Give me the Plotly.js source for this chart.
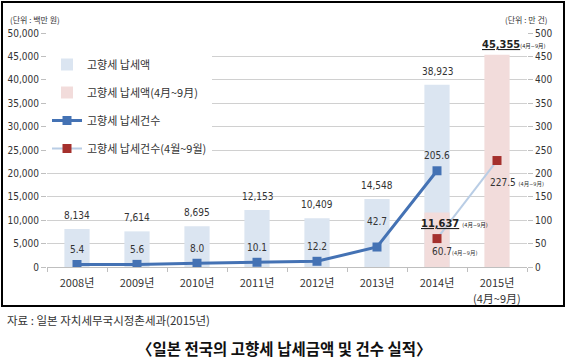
<!DOCTYPE html>
<html>
<head>
<meta charset="utf-8">
<script src="https://cdn.plot.ly/plotly-3.0.1.min.js"></script>
<style>html,body{margin:0;padding:0;background:#fff;}#chart{width:566px;height:360px;}</style>
</head>
<body>
<div id="chart"></div>
<script>
// ---- data ----
const categories = ['2008년', '2009년', '2010년', '2011년', '2012년', '2013년', '2014년', '2015년'];
const categoryNote = ['', '', '', '', '', '', '', '(4月~9月)'];
const amount = [8134, 7614, 8695, 12153, 10409, 14548, 38923, null];          // 고향세 납세액 (백만 원)
const amountPartial = [null, null, null, null, null, null, 11637, 45355];      // 고향세 납세액(4月~9月)
const count = [5.4, 5.6, 8.0, 10.1, 12.2, 42.7, 205.6, null];                // 고향세 납세건수 (만 건)
const countPartial = [null, null, null, null, null, null, 60.7, 227.5];       // 고향세 납세건수(4월~9월)
const seriesNames = ['고향세 납세액', '고향세 납세액(4月~9月)', '고향세 납세건수', '고향세 납세건수(4월~9월)'];
const leftUnit = '(단위 : 백만 원)';
const rightUnit = '(단위 : 만 건)';
const sourceText = '자료 : 일본 자치세무국시정촌세과(2015년)';
const chartTitle = '〈일본 전국의 고향세 납세금액 및 건수 실적〉';
const partialTag = '(4月~9月)';

// ---- geometry / style ----
const W = 566, H = 360;
const M = {l: 47, r: 39, t: 33, b: 93};
const PW = W - M.l - M.r, PH = H - M.t - M.b;
const px = x => (x - M.l) / PW;          // pixel -> paper x
const py = y => (H - M.b - y) / PH;      // pixel -> paper y
const NUM = '"Liberation Sans Narrow", "DejaVu Sans Condensed", "Noto Sans CJK KR", sans-serif';
const KR = '"Noto Sans CJK KR", "Malgun Gothic", sans-serif';
const TXT = '#333333';
const fmtInt = v => v.toLocaleString('en-US');

const traces = [
  {type: 'bar', x: categories, y: amount, name: seriesNames[0], width: 0.42,
   marker: {color: '#dbe5f1'}, legendgroup: 'a', hoverinfo: 'skip'},
  {type: 'bar', x: categories, y: amountPartial, name: seriesNames[1], width: 0.42,
   marker: {color: '#f2dcdb'}, legendgroup: 'b', hoverinfo: 'skip'},
  {type: 'scatter', mode: 'lines+markers', x: categories, y: count, yaxis: 'y2', name: seriesNames[2],
   line: {color: '#4472b4', width: 3}, marker: {symbol: 'square', size: 9, color: '#4472b4'},
   legendgroup: 'c', hoverinfo: 'skip', connectgaps: false},
  {type: 'scatter', mode: 'lines+markers', x: categories, y: countPartial, yaxis: 'y2', name: seriesNames[3],
   line: {color: '#b9cde5', width: 2}, marker: {symbol: 'square', size: 9, color: '#a5302d'},
   legendgroup: 'd', hoverinfo: 'skip'}
];

const ann = [];
// bar value labels (full-year)
amount.forEach((v, i) => {
  if (v == null) return;
  ann.push({x: categories[i], y: v, xref: 'x', yref: 'y', text: fmtInt(v), showarrow: false,
    yanchor: 'bottom', yshift: 6, font: {family: NUM, size: 10, color: TXT}});
});
// count labels
const countShift = [15, 15, 15, 15, 15, 26, 15, 0];
count.forEach((v, i) => {
  if (v == null) return;
  ann.push({x: categories[i], y: v, xref: 'x', yref: 'y2', text: v.toFixed(1), showarrow: false,
    yanchor: 'middle', yshift: countShift[i], font: {family: NUM, size: 10, color: TXT}});
});
// category sub-notes under tick labels
categoryNote.forEach((t, i) => {
  if (!t) return;
  ann.push({x: categories[i], y: py(298), xref: 'x', yref: 'paper', text: t, showarrow: false,
    yanchor: 'middle', font: {family: KR, size: 11, color: TXT}});
});
// partial-period labels
const small = t => '<span style="font-size:5.5px">' + t + '</span>';
ann.push({x: categories[6], y: amountPartial[6], xref: 'x', yref: 'y', showarrow: false,
  text: '<b><u>' + fmtInt(amountPartial[6]) + '</u></b> ' + small(partialTag),
  xanchor: 'left', xshift: -18, yanchor: 'middle', yshift: -11, font: {family: NUM, size: 11, color: '#222'}});
ann.push({x: categories[7], y: amountPartial[7], xref: 'x', yref: 'y', showarrow: false,
  text: '<b><u>' + fmtInt(amountPartial[7]) + '</u></b>' + small(partialTag),
  xanchor: 'left', xshift: -17, yanchor: 'middle', yshift: 10, font: {family: NUM, size: 11, color: '#222'}});
ann.push({x: categories[6], y: countPartial[6], xref: 'x', yref: 'y2', showarrow: false,
  text: countPartial[6].toFixed(1) + small(partialTag),
  xanchor: 'left', xshift: -7, yanchor: 'middle', yshift: -13, font: {family: NUM, size: 10, color: TXT}});
ann.push({x: categories[7], y: countPartial[7], xref: 'x', yref: 'y2', showarrow: false,
  text: countPartial[7].toFixed(1) + ' ' + small(partialTag),
  xanchor: 'left', xshift: -9, yanchor: 'middle', yshift: -22, font: {family: NUM, size: 10, color: TXT}});
// units, source, title
ann.push({x: px(8), y: py(19), xref: 'paper', yref: 'paper', xanchor: 'left', yanchor: 'middle', showarrow: false,
  text: leftUnit, font: {family: KR, size: 8, color: TXT}});
ann.push({x: px(503), y: py(19), xref: 'paper', yref: 'paper', xanchor: 'left', yanchor: 'middle', showarrow: false,
  text: rightUnit, font: {family: KR, size: 8, color: TXT}});
ann.push({x: px(5), y: py(320), xref: 'paper', yref: 'paper', xanchor: 'left', yanchor: 'middle', showarrow: false,
  text: sourceText, font: {family: KR, size: 11.5, color: TXT}});
ann.push({x: px(284), y: py(348), xref: 'paper', yref: 'paper', xanchor: 'center', yanchor: 'middle', showarrow: false,
  text: '<b>' + chartTitle + '</b>', font: {family: KR, size: 15.5, color: '#111'}});

const layout = {
  width: W, height: H,
  margin: M,
  paper_bgcolor: '#fff', plot_bgcolor: '#fff',
  barmode: 'overlay',
  showlegend: true,
  legend: {x: px(47), y: py(50), xanchor: 'left', yanchor: 'top', bgcolor: '#fff',
    traceorder: 'grouped', tracegroupgap: 9, itemwidth: 30,
    font: {family: KR, size: 11, color: TXT}},
  xaxis: {type: 'category', range: [-0.5, 7.5], showgrid: false, zeroline: false,
    showline: false, ticks: 'outside', tickson: 'boundaries', ticklen: 4, tickcolor: '#bfbfbf',
    ticklabelstandoff: 8,
    tickfont: {family: KR, size: 11, color: TXT}},
  yaxis: {range: [0, 50000], dtick: 5000, tickformat: ',', showgrid: true, gridcolor: '#d0d0d0',
    zeroline: true, zerolinecolor: '#bfbfbf', ticks: 'outside', ticklen: 5, tickcolor: '#bfbfbf',
    showline: false, tickfont: {family: NUM, size: 10, color: TXT}},
  yaxis2: {range: [0, 500], dtick: 50, overlaying: 'y', side: 'right', showgrid: false, zeroline: false,
    ticks: 'outside', ticklen: 5, tickcolor: '#bfbfbf', showline: false,
    tickfont: {family: NUM, size: 10, color: TXT}},
  annotations: ann,
  shapes: [{type: 'rect', xref: 'paper', yref: 'paper', x0: px(2), x1: px(564), y0: py(306), y1: py(2),
    line: {color: '#000', width: 2}, fillcolor: 'rgba(0,0,0,0)', layer: 'above'}]
};

Plotly.newPlot('chart', traces, layout, {staticPlot: true, displayModeBar: false});
</script>
</body>
</html>
